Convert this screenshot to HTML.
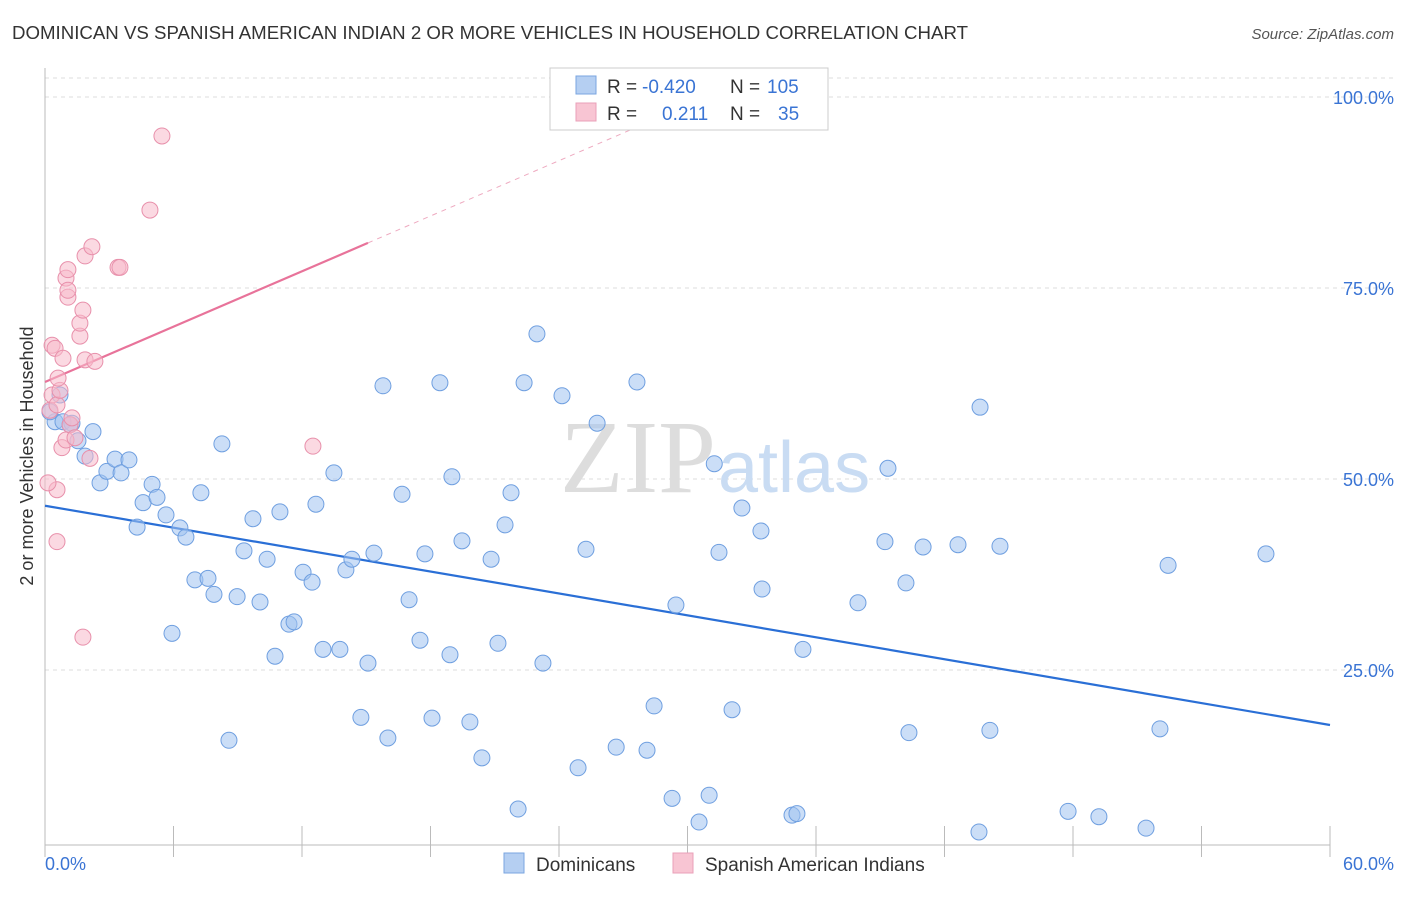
<!DOCTYPE html>
<html><head><meta charset="utf-8"><style>
body{margin:0;background:#fff;font-family:"Liberation Sans",sans-serif;}
</style></head><body>
<svg width="1406" height="892" xmlns="http://www.w3.org/2000/svg">
<text x="12" y="39" font-size="18" fill="#333" textLength="956" lengthAdjust="spacingAndGlyphs">DOMINICAN VS SPANISH AMERICAN INDIAN 2 OR MORE VEHICLES IN HOUSEHOLD CORRELATION CHART</text>
<text x="1394" y="39" font-size="15" fill="#555" font-style="italic" text-anchor="end">Source: ZipAtlas.com</text>
<g id="grid"></g>
<text x="716" y="492" font-size="104" font-family="Liberation Serif,serif" fill="#ddd" text-anchor="end">ZIP</text>
<text x="718" y="492" font-size="72" fill="#c9dcf3">atlas</text>
<line x1="45" y1="68" x2="45" y2="845" stroke="#bbb"/>
<line x1="45" y1="845" x2="1330" y2="845" stroke="#bbb"/>
<g id="ticks"></g>
<text x="33" y="456" font-size="18" fill="#333" transform="rotate(-90 33 456)" text-anchor="middle">2 or more Vehicles in Household</text>
<text x="45" y="870" font-size="18" fill="#3a74d4">0.0%</text>
<text x="1394" y="870" font-size="18" fill="#3a74d4" text-anchor="end">60.0%</text>
<g id="lines"></g>
<g id="pts"></g>
<g>
<rect x="550" y="68" width="278" height="62" fill="#fff" stroke="#ccc"/>
<rect x="576" y="76" width="20" height="18" fill="#b5cff2" stroke="#7aa6e0"/>
<rect x="576" y="103" width="20" height="18" fill="#f8c5d3" stroke="#eaa0b8"/>
<text y="93" font-size="19" fill="#333"><tspan x="607">R =</tspan><tspan x="642" fill="#3a74d4">-0.420</tspan><tspan x="730">N =</tspan><tspan x="767" fill="#3a74d4">105</tspan></text>
<text y="120" font-size="19" fill="#333"><tspan x="607">R =</tspan><tspan fill="#3a74d4" x="662">0.211</tspan><tspan x="730">N =</tspan><tspan fill="#3a74d4" x="778">35</tspan></text>
</g>
<g>
<rect x="504" y="853" width="20" height="20" fill="#b5cff2" stroke="#7aa6e0"/>
<text x="536" y="871" font-size="19" fill="#333">Dominicans</text>
<rect x="673" y="853" width="20" height="20" fill="#f8c5d3" stroke="#eaa0b8"/>
<text x="705" y="871" font-size="19" fill="#333">Spanish American Indians</text>
</g>
</svg>
<script>
const blueX=[0.47,0.70,0.84,1.26,1.54,1.87,2.24,2.57,2.89,3.27,3.55,3.92,4.30,4.58,5.00,5.23,5.65,5.93,6.30,6.58,7.00,7.28,7.61,7.89,8.26,8.59,8.97,9.29,9.71,10.04,10.37,10.74,10.97,11.39,11.63,12.05,12.47,12.65,12.98,13.49,13.77,14.05,14.33,14.75,15.08,15.36,15.78,16.01,16.67,17.00,17.51,17.74,18.07,18.44,18.91,19.00,19.47,19.84,20.40,20.83,21.15,21.48,21.76,22.09,22.37,23.25,24.14,24.89,25.26,25.78,26.67,27.64,28.11,28.44,29.28,29.46,30.54,31.01,31.25,31.47,32.08,32.54,33.43,33.48,34.88,35.11,35.39,37.96,39.22,39.36,40.20,40.34,41.00,42.63,43.61,43.66,44.12,44.59,47.77,49.21,51.41,52.06,52.44,57.01,22.97,0.23,1.17];
const blueY=[57.5,61.0,57.5,57.3,55.0,53.0,56.2,49.5,51.0,52.6,50.8,52.5,43.7,46.9,49.3,47.6,45.3,29.8,43.6,42.4,36.8,48.2,37.0,34.9,54.6,15.8,34.6,40.6,44.8,33.9,39.5,26.8,45.7,31.0,31.3,37.8,36.5,46.7,27.7,50.8,27.7,38.1,39.5,18.8,25.9,40.3,62.2,16.1,48.0,34.2,28.9,40.2,18.7,62.6,27.0,50.3,41.9,18.2,13.5,39.5,28.5,44.0,48.2,6.8,62.6,25.9,60.9,12.2,40.8,57.3,14.9,62.7,14.5,20.3,8.2,33.5,5.1,8.6,52.0,40.4,19.8,46.2,43.2,35.6,6.0,6.2,27.7,33.8,41.8,51.4,36.4,16.8,41.1,41.4,3.8,59.4,17.1,41.2,6.5,5.8,4.3,17.3,38.7,40.2,69.0,58.8,57.1];
const pinkX=[0.23,0.33,0.47,0.33,0.56,0.70,0.79,0.84,0.56,0.56,0.98,1.17,1.26,0.98,1.07,1.07,1.07,1.63,1.63,1.77,1.77,1.87,1.87,2.19,2.33,2.10,3.41,3.50,4.90,5.46,12.51,0.14,1.40,0.61];
const pinkY=[59.0,67.5,67.1,61.0,59.7,61.6,54.1,65.8,48.6,41.8,55.1,57.1,58.0,76.3,77.4,73.8,74.7,68.7,70.4,72.1,29.3,79.2,65.6,80.4,65.4,52.7,77.7,77.7,85.2,94.9,54.3,49.5,55.4,63.2];
const X0=45,X1=1330,Y0=861,PPY=191/25;
const sx=v=>X0+(v/60)*(X1-X0), sy=v=>Y0-v*PPY;
const NS='http://www.w3.org/2000/svg';
function mk(t,a,p){const e=document.createElementNS(NS,t);for(const k in a)e.setAttribute(k,a[k]);p.appendChild(e);return e;}
const grid=document.getElementById('grid');
const yTicks=[25,50,75,100];
for(const v of yTicks){
 const l=mk('line',{x1:45,x2:1394,y1:sy(v),y2:sy(v),stroke:'#ddd','stroke-dasharray':'4,4'},grid);
 
 
 const t=mk('text',{x:1394,y:sy(v)+7,'font-size':18,fill:'#3a74d4','text-anchor':'end'},grid);
 t.textContent=v.toFixed(1)+'%';
 
 
}
const tl=mk('line',{x1:45,x2:1394,y1:78,y2:78,stroke:'#ddd','stroke-dasharray':'4,4'},grid);


const ticks=document.getElementById('ticks');
for(let i=0;i<=10;i++){
 const x=sx(i*6);
 const l=mk('line',{x1:x,x2:x,y1:826,y2:857,stroke:'#bbb'},ticks);
 
 
}
const lines=document.getElementById('lines');
const blueLine=[46.5,17.8], pinkLine=[62.7,80.9], pinkEnd=15.08;
let b=mk('line',{x1:sx(0),y1:sy(blueLine[0]),x2:sx(60),y2:sy(blueLine[1]),stroke:'#2a6fd6','stroke-width':2.2},lines);


const ps=(pinkLine[1]-pinkLine[0])/pinkEnd;
let p=mk('line',{x1:sx(0),y1:sy(pinkLine[0]),x2:sx(pinkEnd),y2:sy(pinkLine[1]),stroke:'#e8739a','stroke-width':2.2},lines);


let pd=mk('line',{x1:sx(pinkEnd),y1:sy(pinkLine[1]),x2:sx(29),y2:sy(pinkLine[0]+ps*29),stroke:'#eeaac0','stroke-width':1,'stroke-dasharray':'5,5'},lines);


const pts=document.getElementById('pts');
blueX.forEach((x,i)=>{const c=mk('circle',{cx:sx(x),cy:sy(blueY[i]),r:8,fill:'rgba(160,195,240,0.55)',stroke:'#6f9fe0','stroke-width':1},pts);
 
 });
pinkX.forEach((x,i)=>{const c=mk('circle',{cx:sx(x),cy:sy(pinkY[i]),r:8,fill:'rgba(247,185,203,0.55)',stroke:'#e890ab','stroke-width':1},pts);
 
 });
</script>
</body></html>
